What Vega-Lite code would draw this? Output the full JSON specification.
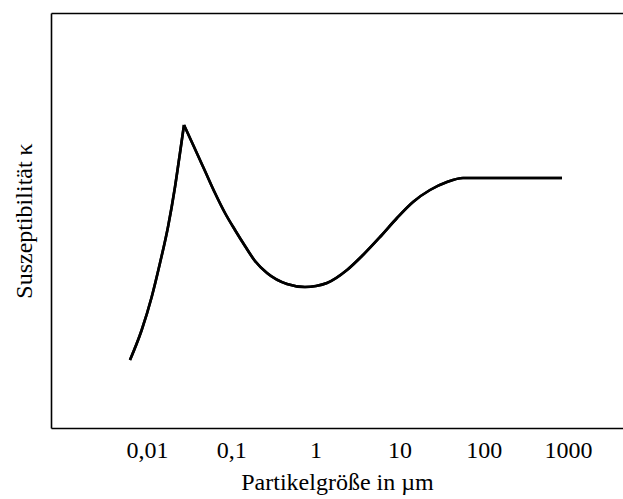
{
  "$schema": "https://vega.github.io/schema/vega-lite/v6.json",
  "width": 572,
  "height": 415,
  "autosize": "none",
  "padding": {"left": 51, "top": 13, "right": 0, "bottom": 71},
  "background": "white",
  "config": {
    "view": {"stroke": null},
    "font": "Liberation Serif",
    "axis": {"domainColor": "black", "domainWidth": 1.6, "grid": false, "labelColor": "black", "titleColor": "black", "titleFontWeight": "normal", "labelFont": "Liberation Serif", "titleFont": "Liberation Serif"}
  },
  "data": {
    "values": [
      {"seg": "a", "size": 0.006282, "k": 68},
      {"seg": "a", "size": 0.008653, "k": 98},
      {"seg": "a", "size": 0.011368, "k": 131},
      {"seg": "a", "size": 0.014271, "k": 165},
      {"seg": "a", "size": 0.017759, "k": 201},
      {"seg": "a", "size": 0.021505, "k": 241},
      {"seg": "a", "size": 0.024647, "k": 275},
      {"seg": "a", "size": 0.027506, "k": 303},
      {"seg": "b", "size": 0.027506, "k": 303},
      {"seg": "b", "size": 0.03716, "k": 279},
      {"seg": "b", "size": 0.04885, "k": 257},
      {"seg": "b", "size": 0.06421, "k": 235},
      {"seg": "b", "size": 0.0844, "k": 215},
      {"seg": "b", "size": 0.11094, "k": 198},
      {"seg": "b", "size": 0.14584, "k": 182},
      {"seg": "b", "size": 0.19171, "k": 167},
      {"seg": "b", "size": 0.26619, "k": 155},
      {"seg": "b", "size": 0.45999, "k": 144},
      {"seg": "b", "size": 0.75244, "k": 141},
      {"seg": "b", "size": 1.0165, "k": 142},
      {"seg": "b", "size": 1.3735, "k": 145},
      {"seg": "b", "size": 2.3731, "k": 158},
      {"seg": "b", "size": 3.6756, "k": 173},
      {"seg": "b", "size": 5.8509, "k": 191},
      {"seg": "b", "size": 9.3138, "k": 210},
      {"seg": "b", "size": 14.428, "k": 226},
      {"seg": "b", "size": 22.962, "k": 238},
      {"seg": "b", "size": 36.551, "k": 246},
      {"seg": "b", "size": 56.62, "k": 250},
      {"seg": "b", "size": 848.6, "k": 250}
    ]
  },
  "encoding": {
    "y": {
      "field": "k", "type": "quantitative",
      "scale": {"domain": [0, 415], "nice": false, "zero": false},
      "axis": {"title": "Suszeptibilität κ", "labels": false, "ticks": false, "titleFontSize": 24, "titlePadding": 15}
    },
    "detail": {"field": "seg", "type": "nominal"}
  },
  "layer": [
    {
      "mark": {"type": "line", "color": "black", "strokeWidth": 2.6, "interpolate": "monotone"},
      "encoding": {
        "x": {
          "field": "size", "type": "quantitative",
          "scale": {"type": "log", "domain": [0.0007243, 4500], "nice": false},
          "axis": {
            "orient": "bottom", "title": "Partikelgröße in µm", "values": [0.01, 0.1, 1, 10, 100, 1000],
            "labelExpr": "replace(format(datum.value, '~g'), '.', ',')",
            "ticks": false, "labelFontSize": 24, "titleFontSize": 24, "labelPadding": 10, "titlePadding": 8, "labelFlush": false
          }
        }
      }
    },
    {
      "mark": {"type": "line", "color": "black", "strokeWidth": 2.6, "interpolate": "monotone"},
      "encoding": {
        "x": {
          "field": "size", "type": "quantitative",
          "scale": {"type": "log", "domain": [0.0007243, 4500], "nice": false},
          "axis": {"orient": "top", "title": null, "labels": false, "ticks": false}
        }
      }
    }
  ],
  "resolve": {"axis": {"x": "independent"}}
}
